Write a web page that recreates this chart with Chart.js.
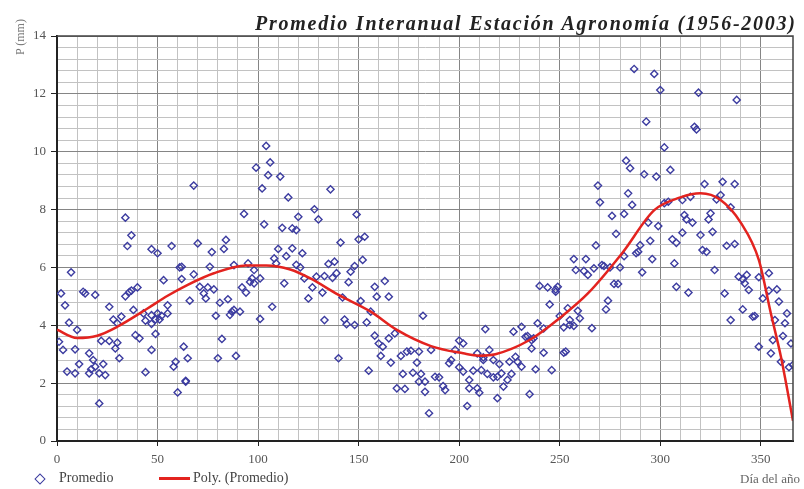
<!DOCTYPE html>
<html>
<head>
<meta charset="utf-8">
<script src="https://cdn.jsdelivr.net/npm/chart.js@4.4.1/dist/chart.umd.min.js"></script>
<style>
body { margin: 0; background: #fff; }
#wrap { position: relative; width: 804px; height: 489px; }
#title { position: absolute; top: 12px; right: 9px; font: italic bold 20px "Liberation Serif", serif; color: #222; white-space: nowrap; }
#ylab { position: absolute; left: 13px; top: 55px; transform-origin: 0 0; transform: rotate(-90deg); font: 12px "Liberation Serif", serif; color: #777; white-space: nowrap; }
.leg { position: absolute; top: 470px; font: 14px "Liberation Serif", serif; color: #444; white-space: nowrap; }
#dia { position: absolute; left: 36px; top: 475px; width: 6px; height: 6px; border: 1.5px solid #3c3ca0; transform: rotate(45deg); }
#redline { position: absolute; left: 159px; top: 477px; width: 31px; height: 3px; background: #e3231f; }
#xlab { position: absolute; right: 4px; top: 471px; font: 13px "Liberation Serif", serif; color: #666; white-space: nowrap; }
</style>
</head>
<body>
<div id="wrap">
  <canvas id="chart" width="804" height="489"></canvas>
  <div id="title">Promedio Interanual Estación Agronomía (1956-2003)</div>
  <div id="ylab">P (mm)</div>
  <div id="dia"></div>
  <div class="leg" style="left:59px">Promedio</div>
  <div id="redline"></div>
  <div class="leg" style="left:193px">Poly. (Promedio)</div>
  <div id="xlab">Día del año</div>
</div>
<script>
// daily mean precipitation
const days = [
  34, 37, 35, 47, 50, 57, 61, 7, 53, 62, 2, 13, 14, 19, 40, 37, 34, 36, 4, 26,
  38, 55, 28, 30, 32, 6, 10, 43, 44, 47, 47, 50, 52, 55, 49, 51, 49, 39, 41, 22,
  26, 30, 29, 1, 3, 9, 31, 47, 16, 18, 19, 11, 23, 17, 5, 9, 16, 21, 24, 44,
  59, 58, 64, 60, 21,
  104, 99, 106, 105, 111, 102, 68, 115, 93, 120, 103, 112, 117, 119, 84, 83, 70, 77, 110, 117,
  122, 114, 108, 109, 62, 76, 88, 95, 119, 121, 68, 98, 97, 101, 123, 71, 75, 78, 73, 74,
  92, 94, 96, 98, 113, 66, 81, 85, 79, 87, 88, 91, 86, 101, 107, 125, 82, 63, 65, 80,
  89, 64,
  136, 128, 130, 149, 141, 150, 153, 135, 138, 148, 146, 152, 133, 137, 139, 129, 145, 163, 127, 132,
  158, 159, 165, 142, 151, 156, 133, 143, 144, 148, 154, 182, 158, 160, 162, 165, 168, 161, 140, 155,
  166, 171, 174, 176, 180, 186, 179, 172, 177, 181, 180, 183, 169, 173, 183, 185,
  240, 244, 248, 249, 245, 213, 227, 231, 233, 236, 239, 242, 200, 202, 198, 215, 236, 242, 209, 212,
  217, 196, 195, 228, 225, 229, 220, 226, 238, 246, 200, 202, 207, 211, 214, 217, 219, 188, 190, 192,
  193, 205, 205, 209, 210, 224, 222, 219, 235, 204, 234, 237, 252, 255, 212, 231, 221,
  287, 297, 300, 293, 302, 283, 285, 292, 298, 305, 269, 284, 270, 286, 276, 282, 302, 304, 294, 299,
  278, 306, 308, 268, 290, 289, 288, 295, 282, 257, 263, 296, 307, 258, 262, 264, 267, 271, 272, 275,
  280, 291, 277, 279, 308, 248, 274, 273, 254, 250, 259, 260, 255, 257, 266, 252, 253,
  319, 338, 317, 318, 322, 331, 337, 311, 315, 330, 328, 335, 312, 313, 316, 325, 324, 311, 320, 326,
  321, 323, 333, 337, 327, 314, 332, 339, 341, 343, 342, 344, 349, 354, 351, 354, 358, 359, 363, 341,
  335, 346, 347, 357, 362, 361, 365, 349, 356, 355, 360, 364, 366
];
const precip = [
  7.72, 7.11, 6.74, 6.63, 6.49, 6.74, 6.0, 5.83, 5.56, 5.6, 5.1, 5.16, 5.1, 5.05, 5.31, 5.2, 5.0, 5.15, 4.69, 4.64,
  4.53, 4.69, 4.2, 4.07, 4.3, 4.09, 3.84, 4.41, 4.16, 4.05, 4.35, 4.41, 4.33, 4.41, 4.2, 4.2, 3.7, 3.66, 3.55, 3.46,
  3.46, 3.4, 3.2, 3.43, 3.15, 3.17, 2.86, 3.15, 3.03, 2.8, 2.57, 2.66, 2.66, 2.48, 2.4, 2.34, 2.34, 2.34, 2.28, 2.38,
  2.74, 2.57, 2.05, 1.68, 1.3,
  10.2, 9.45, 9.63, 9.19, 9.14, 8.73, 8.83, 8.42, 7.85, 7.75, 7.49, 7.37, 7.35, 7.29, 6.95, 6.64, 6.83, 6.53, 6.64, 6.66,
  6.49, 6.39, 6.31, 6.14, 6.02, 6.02, 6.08, 6.14, 6.09, 6.0, 5.76, 5.91, 5.62, 5.62, 5.62, 5.33, 5.31, 5.24, 5.1, 4.93,
  5.31, 5.13, 5.5, 5.45, 5.45, 4.85, 4.78, 4.9, 4.33, 4.47, 4.53, 4.47, 4.36, 4.22, 4.64, 4.93, 3.53, 3.26, 2.86, 2.86,
  2.94, 2.08,
  8.7, 8.01, 7.66, 7.83, 6.86, 6.97, 7.06, 6.12, 6.2, 6.05, 5.85, 6.26, 5.7, 5.64, 5.8, 5.68, 5.49, 5.53, 5.31, 5.13,
  5.33, 4.99, 4.99, 4.96, 4.84, 4.47, 4.18, 4.2, 4.04, 4.01, 4.1, 4.33, 3.64, 3.37, 3.26, 3.55, 3.72, 2.94, 2.86, 2.43,
  2.71, 2.94, 3.09, 3.12, 3.09, 3.15, 2.71, 2.32, 2.36, 2.32, 2.05, 2.05, 1.82, 1.8, 1.7, 0.96,
  5.36, 5.31, 5.24, 5.33, 4.72, 3.87, 3.78, 3.95, 3.6, 3.49, 4.07, 3.89, 3.47, 3.37, 3.15, 3.15, 3.2, 3.05, 3.03, 2.8,
  2.8, 2.8, 2.69, 2.91, 2.74, 2.74, 2.66, 2.32, 2.48, 2.45, 2.55, 2.4, 2.43, 2.45, 2.32, 2.2, 2.22, 2.22, 2.2, 1.9,
  1.76, 2.11, 1.82, 1.82, 1.67, 2.11, 1.88, 1.48, 1.62, 1.21, 3.63, 3.55, 3.93, 4.01, 2.89, 2.57, 2.34,
  12.86, 12.69, 12.13, 11.04, 10.15, 9.69, 9.43, 9.22, 9.14, 9.37, 8.83, 8.56, 8.25, 8.16, 7.78, 7.85, 8.22, 8.27, 7.55, 7.43,
  7.16, 6.97, 6.85, 6.76, 6.77, 6.54, 6.49, 6.92, 6.39, 6.29, 6.29, 6.29, 6.14, 5.91, 5.88, 5.74, 5.97, 6.08, 6.05, 6.0,
  6.0, 5.83, 5.43, 5.43, 5.33, 5.16, 4.85, 4.55, 4.59, 4.32, 4.5, 4.24, 4.18, 3.98, 3.9, 3.05, 3.09,
  12.04, 11.79, 10.86, 10.77, 8.88, 8.96, 8.88, 8.33, 8.44, 8.5, 8.35, 8.08, 7.81, 7.66, 7.55, 7.87, 7.66, 7.2, 7.12, 7.23,
  6.6, 6.54, 6.75, 6.81, 5.91, 5.13, 5.1, 5.68, 5.59, 5.74, 5.45, 5.22, 5.66, 5.8, 4.93, 5.2, 5.24, 4.82, 4.41, 4.55,
  4.18, 4.3, 4.32, 4.18, 4.07, 3.63, 3.37, 3.26, 3.49, 3.03, 2.74, 2.55, 2.63
];

// polynomial trend line
const trendDays = [0, 10, 20, 30, 45, 55, 65, 78, 94, 104, 116, 126, 140, 156, 169, 186, 202, 210, 218, 235, 250, 264, 281, 297, 310, 320, 330, 340, 349, 355, 360, 366];
const trendValues = [3.85, 3.56, 3.64, 3.95, 4.58, 5.02, 5.4, 5.8, 6.07, 6.07, 5.93, 5.62, 5.05, 4.47, 3.84, 3.28, 3.03, 2.95, 3.0, 3.49, 4.25, 5.1, 6.49, 7.98, 8.42, 8.56, 8.33, 7.55, 6.26, 4.41, 2.91, 0.7];

const xMin = 0, xMax = 366, xStep = 10, xMajor = 50;
const yMin = 0, yMax = 14, yStep = 0.4, yMajor = 2;

function isMajor(v, step) {
    return Math.abs(v / step - Math.round(v / step)) < 1e-6;
}

const framePlugin = {
    id: "frame",
    afterDraw(chart) {
        const a = chart.chartArea;
        const c = chart.ctx;
        c.save();
        c.strokeStyle = "#444";
        c.lineWidth = 1.5;
        c.beginPath();
        c.moveTo(a.left, a.top);
        c.lineTo(a.right, a.top);
        c.lineTo(a.right, a.bottom);
        c.stroke();
        c.restore();
    }
};

const tickFont = { family: "Liberation Serif", size: 13 };

new Chart(document.getElementById("chart"), {
    type: "scatter",
    data: {
        datasets: [
            {
                label: "Poly. (Promedio)",
                data: trendDays.map((d, i) => ({ x: d, y: trendValues[i] })),
                showLine: true,
                borderColor: "#e3231f",
                borderWidth: 2.5,
                pointRadius: 0,
                cubicInterpolationMode: "monotone",
                fill: false
            },
            {
                label: "Promedio",
                data: days.map((d, i) => ({ x: d, y: precip[i] })),
                pointStyle: "rectRot",
                pointRadius: 3.6,
                borderColor: "#3c3ca0",
                backgroundColor: "rgba(255,255,255,0)",
                borderWidth: 1.4
            }
        ]
    },
    options: {
        responsive: false,
        animation: false,
        layout: { padding: { left: 0, top: 36, right: 11, bottom: 0 } },
        plugins: {
            legend: { display: false },
            tooltip: { enabled: false }
        },
        scales: {
            x: {
                type: "linear",
                min: xMin,
                max: xMax,
                afterFit: (s) => { s.height = 48; },
                afterBuildTicks: (s) => { s.ticks = s.ticks.filter((t) => t.value <= 360); },
                ticks: {
                    stepSize: xStep,
                    autoSkip: false,
                    maxRotation: 0,
                    padding: 6,
                    color: "#555",
                    font: tickFont,
                    callback: (v) => (isMajor(v, xMajor) ? v : "")
                },
                grid: {
                    color: (ctx) => (isMajor(ctx.tick.value, xMajor) ? "#858585" : "#c2c2c2"),
                    tickColor: (ctx) => (isMajor(ctx.tick.value, xMajor) ? "#222" : "rgba(0,0,0,0)"),
                    tickLength: 5,
                    lineWidth: 1
                },
                border: { color: "#222", width: 2 }
            },
            y: {
                min: yMin,
                max: yMax,
                afterFit: (s) => { s.width = 57; },
                ticks: {
                    stepSize: yStep,
                    autoSkip: false,
                    padding: 5,
                    color: "#555",
                    font: tickFont,
                    callback: (v) => (isMajor(v, yMajor) ? Math.round(v) : "")
                },
                grid: {
                    color: (ctx) => (isMajor(ctx.tick.value, yMajor) ? "#858585" : "#c2c2c2"),
                    tickColor: (ctx) => (isMajor(ctx.tick.value, yMajor) ? "#222" : "rgba(0,0,0,0)"),
                    tickLength: 6,
                    lineWidth: 1
                },
                border: { color: "#222", width: 2 }
            }
        }
    },
    plugins: [framePlugin]
});

// stretch the title so it spans the same width as in the reference
const title = document.getElementById("title");
const chars = title.textContent.length;
const natural = title.getBoundingClientRect().width;
title.style.letterSpacing = ((542 - natural) / chars).toFixed(2) + "px";
title.style.right = (9 - (542 - natural) / chars) + "px";
</script>
</body>
</html>
